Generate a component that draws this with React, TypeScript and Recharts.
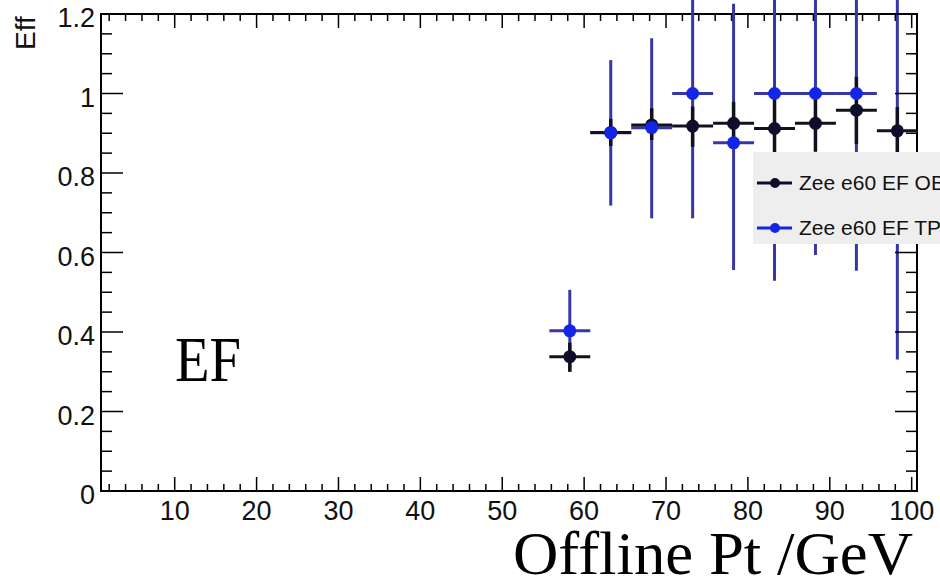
import React from 'react';
import { ComposedChart, Scatter, XAxis, YAxis, ErrorBar, ReferenceArea, Legend } from 'recharts';

// ---- data ----
const ptBins = [58.25, 63.25, 68.25, 73.25, 78.25, 83.25, 88.25, 93.25, 98.25];
const ptHalfWidth = [2.5, 2.5, 2.5, 2.5, 2.5, 2.5, 2.5, 2.5, 2.5];

const obName = 'Zee e60 EF OB';
const obEff = [0.338, 0.902, 0.921, 0.918, 0.925, 0.912, 0.925, 0.958, 0.906];
const obErrLow = [0.038, 0.034, 0.038, 0.052, 0.055, 0.07, 0.07, 0.085, 0.06];
const obErrHigh = [0.035, 0.034, 0.042, 0.049, 0.054, 0.072, 0.06, 0.084, 0.06];

const tpName = 'Zee e60 EF TP';
const tpEff = [0.403, 0.901, 0.914, 1.0, 0.876, 1.0, 1.0, 1.0, 0.74];
const tpErrLow = [0.103, 0.183, 0.228, 0.314, 0.32, 0.471, 0.406, 0.446, 0.409];
const tpErrHigh = [0.103, 0.183, 0.225, 0.25, 0.35, 0.25, 0.25, 0.25, 0.5];

const xTicks = [2, 4, 6, 8, 10, 12, 14, 16, 18, 20, 22, 24, 26, 28, 30, 32, 34, 36, 38, 40, 42, 44, 46, 48, 50,
  52, 54, 56, 58, 60, 62, 64, 66, 68, 70, 72, 74, 76, 78, 80, 82, 84, 86, 88, 90, 92, 94, 96, 98, 100];
const xMajorLabels = [10, 20, 30, 40, 50, 60, 70, 80, 90, 100];
const yTicks = [0, 0.05, 0.1, 0.15, 0.2, 0.25, 0.3, 0.35, 0.4, 0.45, 0.5, 0.55, 0.6, 0.65, 0.7, 0.75, 0.8,
  0.85, 0.9, 0.95, 1, 1.05, 1.1, 1.15, 1.2];
const yMajorLabels = [0, 0.2, 0.4, 0.6, 0.8, 1, 1.2];

const xDomain = [1, 100.65];
const yDomain = [0, 1.2];

// ---- layout / styles ----
const W = 940;
const H = 580;
const M_TOP = 14;
const M_RIGHT = 23;
const Y_AXIS_W = 101;
const X_AXIS_H = 89;
const PLOT_W = W - M_RIGHT - Y_AXIS_W;
const PLOT_H = H - M_TOP - X_AXIS_H;

const BLACK_MARK = '#0e0e2c';
const BLACK_BAR = '#12121e';
const BLUE_MARK = '#1326e8';
const BLUE_BAR = '#3636a6';
const SANS = '"Liberation Sans", Arial, sans-serif';
const SERIF = '"Liberation Serif", "Times New Roman", serif';

const obPoints = ptBins.map((x, i) => ({
  x,
  y: obEff[i],
  yErr: [obErrLow[i], obErrHigh[i]],
  xErr: ptHalfWidth[i],
}));
const tpPoints = ptBins.map((x, i) => ({
  x,
  y: tpEff[i],
  yErr: [tpErrLow[i], tpErrHigh[i]],
  xErr: ptHalfWidth[i],
}));

const XTick = (props: any) => {
  const { x, y, payload } = props;
  const v = payload.value;
  const major = xMajorLabels.includes(v);
  const len = major ? 14 : 7;
  return (
    <g>
      <line x1={x} y1={y} x2={x} y2={y - len} stroke="#000" strokeWidth={1.5} />
      <line x1={x} y1={y - PLOT_H} x2={x} y2={y - PLOT_H + len} stroke="#000" strokeWidth={1.5} />
      {major && (
        <text x={x} y={y + 29} textAnchor="middle" fontFamily={SANS} fontSize={27} fill="#111">
          {String(v)}
        </text>
      )}
    </g>
  );
};

const YTick = (props: any) => {
  const { x, y, payload } = props;
  const v = payload.value;
  const major = yMajorLabels.some((m) => Math.abs(m - v) < 1e-6);
  const len = major ? 22 : 11;
  return (
    <g>
      <line x1={x} y1={y} x2={x + len} y2={y} stroke="#000" strokeWidth={1.5} />
      <line x1={x + PLOT_W} y1={y} x2={x + PLOT_W - len} y2={y} stroke="#000" strokeWidth={1.5} />
      {major && (
        <text x={x - 6} y={y + 13} textAnchor="end" fontFamily={SANS} fontSize={27} fill="#111">
          {String(v)}
        </text>
      )}
    </g>
  );
};

const LegendBox = (props: any) => {
  const items = (props.payload || []).filter((p: any) => p.type !== 'none');
  return (
    <div style={{ width: 200, height: 92, background: '#eeeeee', paddingTop: 8, boxSizing: 'border-box' }}>
      {items.map((it: any) => (
        <div key={it.value} style={{ display: 'flex', alignItems: 'center', height: 45, whiteSpace: 'nowrap' }}>
          <svg width={46} height={20} style={{ flex: 'none' }}>
            <line x1={4} y1={10} x2={39} y2={10} stroke={it.color} strokeWidth={3} />
            <circle cx={22} cy={10} r={5} fill={it.color} />
          </svg>
          <span style={{ fontFamily: SANS, fontSize: 21, color: '#111' }}>{it.value}</span>
        </div>
      ))}
    </div>
  );
};

const dot = (color: string) => (p: any) => <circle cx={p.cx} cy={p.cy} r={6.5} fill={color} />;
const noDot = () => <g />;

export default function App() {
  return (
    <div style={{ position: 'fixed', left: 0, top: 0, width: W, height: H, overflow: 'hidden', background: '#fff' }}>
      <ComposedChart width={W} height={H} margin={{ top: M_TOP, right: M_RIGHT, bottom: 0, left: 0 }}>
        <XAxis
          dataKey="x"
          type="number"
          domain={xDomain}
          allowDataOverflow
          ticks={xTicks}
          interval={0}
          tickSize={0}
          tickMargin={0}
          height={X_AXIS_H}
          axisLine={{ stroke: '#000', strokeWidth: 2 }}
          tickLine={false}
          tick={(p: any) => <XTick {...p} />}
        />
        <YAxis
          dataKey="y"
          type="number"
          domain={yDomain}
          allowDataOverflow
          ticks={yTicks}
          interval={0}
          tickSize={0}
          tickMargin={0}
          width={Y_AXIS_W}
          axisLine={{ stroke: '#000', strokeWidth: 2 }}
          tickLine={false}
          tick={(p: any) => <YTick {...p} />}
        />
        <ReferenceArea x1={xDomain[0]} x2={xDomain[1]} y1={yDomain[0]} y2={yDomain[1]} fill="none" stroke="#000" strokeWidth={2} />
        <Scatter name="tp-bars" data={tpPoints} legendType="none" isAnimationActive={false} shape={noDot}>
          <ErrorBar dataKey="yErr" direction="y" width={0} stroke={BLUE_BAR} strokeWidth={3} isAnimationActive={false} />
          <ErrorBar dataKey="xErr" direction="x" width={0} stroke={BLUE_BAR} strokeWidth={3} isAnimationActive={false} />
        </Scatter>
        <Scatter name={obName} data={obPoints} fill={BLACK_MARK} isAnimationActive={false} shape={dot(BLACK_MARK)}>
          <ErrorBar dataKey="yErr" direction="y" width={0} stroke={BLACK_BAR} strokeWidth={3.5} isAnimationActive={false} />
          <ErrorBar dataKey="xErr" direction="x" width={0} stroke={BLACK_BAR} strokeWidth={3} isAnimationActive={false} />
        </Scatter>
        <Scatter name={tpName} data={tpPoints} fill={BLUE_MARK} isAnimationActive={false} shape={dot(BLUE_MARK)} />
        <Legend
          layout="vertical"
          verticalAlign="middle"
          align="center"
          wrapperStyle={{ position: 'absolute', left: 753, top: 152, width: 200, height: 92 }}
          content={(p: any) => <LegendBox {...p} />}
        />
      </ComposedChart>
      <svg width={W} height={H} style={{ position: 'absolute', left: 0, top: 0, pointerEvents: 'none' }}>
        <text transform="translate(35,50) rotate(-90)" fontFamily={SANS} fontSize={28} fill="#111">Eff</text>
        <text x={175} y={381} fontFamily={SERIF} fontSize={64} textLength={66} lengthAdjust="spacingAndGlyphs" fill="#000">EF</text>
        <text x={513} y={574} fontFamily={SERIF} fontSize={61} textLength={400} lengthAdjust="spacingAndGlyphs" fill="#000">Offline Pt /GeV</text>
      </svg>
    </div>
  );
}
